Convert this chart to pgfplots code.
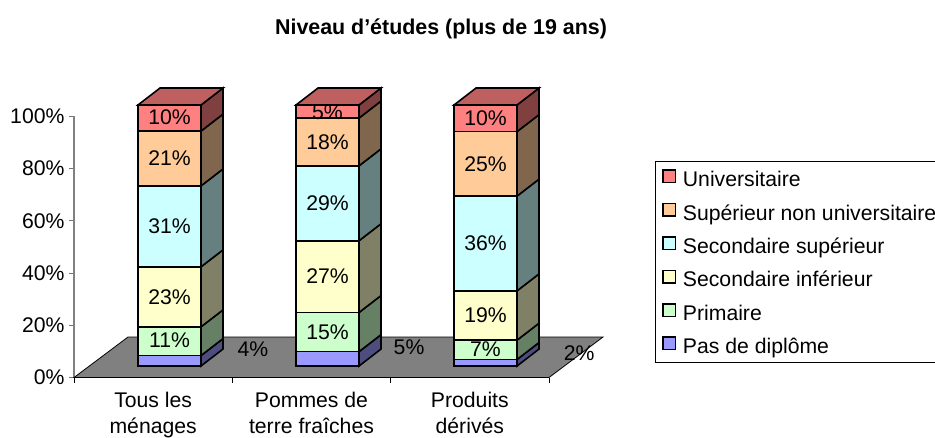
\documentclass[border=0pt]{standalone}
\usepackage{fontspec}
\setmainfont{Liberation Sans}
\usepackage{pgfplots}
\pgfplotsset{compat=1.18}
\definecolor{cU}{HTML}{FF8080}\definecolor{cUs}{HTML}{804040}\definecolor{cUt}{HTML}{BF6060}
\definecolor{cS}{HTML}{FFCC99}\definecolor{cSs}{HTML}{80664D}\definecolor{cSt}{HTML}{BF9973}
\definecolor{cH}{HTML}{CCFFFF}\definecolor{cHs}{HTML}{668080}\definecolor{cHt}{HTML}{99BFBF}
\definecolor{cI}{HTML}{FFFFCC}\definecolor{cIs}{HTML}{808066}\definecolor{cIt}{HTML}{BFBF99}
\definecolor{cP}{HTML}{CCFFCC}\definecolor{cPs}{HTML}{668066}\definecolor{cPt}{HTML}{99BF99}
\definecolor{cN}{HTML}{9999FF}\definecolor{cNs}{HTML}{4D4D80}\definecolor{cNt}{HTML}{7373BF}
\newcommand{\base}{4.4}
% one segment: left x, low, high, colour stem
\newcommand{\seg}[4]{%
  \pgfmathsetmacro\xa{#1}\pgfmathsetmacro\xb{#1+0.398}\pgfmathsetmacro\xc{#1+0.537}%
  \pgfmathsetmacro\ya{#2+\base}\pgfmathsetmacro\yb{#3+\base}%
  \pgfmathsetmacro\yc{#2+\base+6.5}\pgfmathsetmacro\yd{#3+\base+6.5}%
  \edef\temp{%
    \noexpand\addplot[forget plot,draw=black,line width=1.6pt,fill=#4] coordinates {(\xa,\ya)(\xb,\ya)(\xb,\yb)(\xa,\yb)} --cycle;
    \noexpand\addplot[forget plot,draw=black,line width=1.6pt,fill=#4s] coordinates {(\xb,\ya)(\xc,\yc)(\xc,\yd)(\xb,\yb)} --cycle;
  }\temp}
\newcommand{\tophat}[2]{%
  \pgfmathsetmacro\xa{#1}\pgfmathsetmacro\xb{#1+0.398}\pgfmathsetmacro\xc{#1+0.537}\pgfmathsetmacro\xd{#1+0.139}%
  \pgfmathsetmacro\ya{#2+\base}\pgfmathsetmacro\yb{#2+\base+6.5}%
  \edef\temp{\noexpand\addplot[forget plot,draw=black,line width=1.6pt,fill=cUt] coordinates {(\xa,\ya)(\xb,\ya)(\xc,\yb)(\xd,\yb)} --cycle;}\temp}
\begin{document}
\begin{tikzpicture}[x=1pt,y=1pt]
\useasboundingbox (0,0) rectangle (935,437);
\begin{axis}[
  at={(74pt,59.5pt)},anchor=south west,
  scale only axis,width=475pt,height=261pt,
  xmin=0,xmax=3,ymin=0,ymax=100,
  clip=false,
  axis lines=left,
  axis line style={-,draw=black!50,line width=1.3pt},
  x axis line style={draw=black},
  xtick={0.5,1.5,2.5},
  xticklabels={{Tous les\\ménages},{Pommes de\\terre fraîches},{Produits\\dérivés}},
  minor xtick={0,1,2,3},
  major x tick style={draw=none},
  minor x tick style={draw=black,line width=0.8pt},
  minor tick length=5pt,
  ytick={0,20,40,60,80,100},
  yticklabels={0\%,20\%,40\%,60\%,80\%,100\%},
  y tick style={draw=black!55,line width=1pt},
  major tick length=5pt,
  tick align=outside,
  xticklabel style={align=center,font=\fontsize{21.2}{26}\selectfont,yshift=-6.5pt},
  yticklabel style={font=\fontsize{21.2}{24}\selectfont,xshift=-1pt},
  every axis title shift=0pt,
  title={\textbf{Niveau d’études (plus de 19 ans)}},
  title style={at={(axis cs:2.318,133.6)},anchor=center,font=\fontsize{21.4}{24}\selectfont,inner sep=0pt},
  legend style={at={(axis cs:3.67,83)},anchor=north west,draw=black,line width=0.7pt,
    font=\fontsize{21.2}{24}\selectfont,
    inner xsep=7pt,inner ysep=8pt,
    nodes={inner sep=0pt,text height=14.6pt,text depth=0.4pt},
    /tikz/every odd column/.append style={column sep=6.5pt},
    row sep=15.7pt},
  legend cell align=left,
  legend image code/.code={\draw[#1] (0pt,-3pt) rectangle (12.5pt,9.5pt);},
]
% legend
\addlegendimage{draw=black,line width=1.5pt,fill=cU}\addlegendentry{Universitaire}
\addlegendimage{draw=black,line width=1.5pt,fill=cS}\addlegendentry{Supérieur non universitaire}
\addlegendimage{draw=black,line width=1.5pt,fill=cH}\addlegendentry{Secondaire supérieur}
\addlegendimage{draw=black,line width=1.5pt,fill=cI}\addlegendentry{Secondaire inférieur}
\addlegendimage{draw=black,line width=1.5pt,fill=cP}\addlegendentry{Primaire}
\addlegendimage{draw=black,line width=1.5pt,fill=cN}\addlegendentry{Pas de diplôme}
% floor
\addplot[forget plot,draw=black,line width=0.8pt,fill=black!50] coordinates {(0,0)(0.341,15.5)(3.341,15.5)(3,0)} --cycle;
% Tous les ménages
\seg{0.404}{0}{4}{cN}\seg{0.404}{4}{15}{cP}\seg{0.404}{15}{38}{cI}\seg{0.404}{38}{69}{cH}\seg{0.404}{69}{90}{cS}\seg{0.404}{90}{100}{cU}\tophat{0.404}{100}
% Pommes de terre fraiches
\seg{1.402}{0}{5.5}{cN}\seg{1.402}{5.5}{20.5}{cP}\seg{1.402}{20.5}{48}{cI}\seg{1.402}{48}{76.7}{cH}\seg{1.402}{76.7}{95}{cS}\seg{1.402}{95}{100}{cU}\tophat{1.402}{100}
% Produits derives
\seg{2.4}{0}{2.5}{cN}\seg{2.4}{2.5}{9.9}{cP}\seg{2.4}{9.9}{28.8}{cI}\seg{2.4}{28.8}{65.1}{cH}\seg{2.4}{65.1}{89.8}{cS}\seg{2.4}{89.8}{100}{cU}\tophat{2.4}{100}
% data labels
\begin{scope}[every node/.style={font=\fontsize{21.2}{24}\selectfont,inner sep=0pt}]
\node at (axis cs:1.13,10.9) {4\%};
\node at (axis cs:0.603,14.2) {11\%};
\node at (axis cs:0.603,30.9) {23\%};
\node at (axis cs:0.603,57.9) {31\%};
\node at (axis cs:0.603,83.9) {21\%};
\node at (axis cs:0.603,99.6) {10\%};
\node at (axis cs:2.116,11.5) {5\%};
\node at (axis cs:1.601,17.4) {15\%};
\node at (axis cs:1.601,38.65) {27\%};
\node at (axis cs:1.601,66.75) {29\%};
\node at (axis cs:1.601,90.25) {18\%};
\node at (axis cs:1.601,101.8) {5\%};
\node at (axis cs:3.19,9.2) {2\%};
\node at (axis cs:2.599,10.8) {7\%};
\node at (axis cs:2.599,23.75) {19\%};
\node at (axis cs:2.599,51.35) {36\%};
\node at (axis cs:2.599,81.85) {25\%};
\node at (axis cs:2.599,99.3) {10\%};
\end{scope}
\end{axis}
\end{tikzpicture}
\end{document}
